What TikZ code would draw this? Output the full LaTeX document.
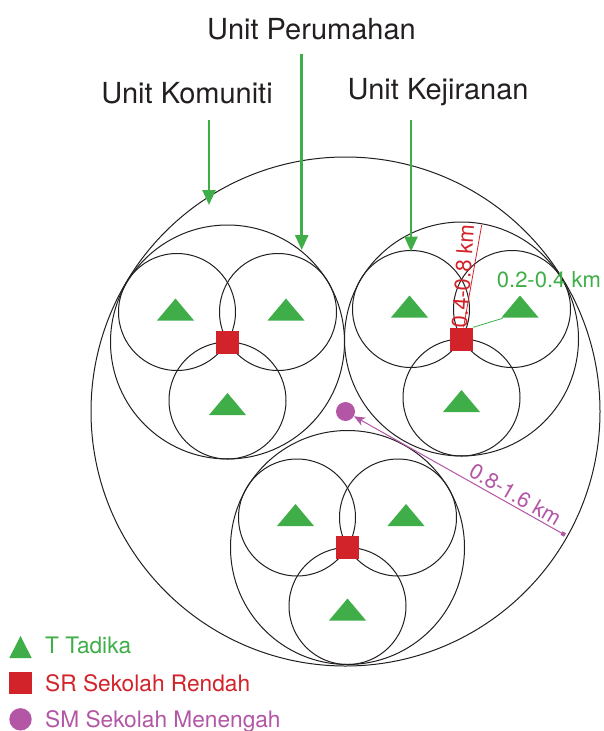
\documentclass[tikz,border=0pt]{standalone}
\usepackage{fontspec}
\setmainfont{TeX Gyre Heros}
\usetikzlibrary{arrows.meta,calc}
\definecolor{tgreen}{HTML}{3FAE49}
\definecolor{srred}{HTML}{D2232A}
\definecolor{smmag}{HTML}{B356A5}
\definecolor{ink}{HTML}{231F20}
\begin{document}
\begin{tikzpicture}[x=1pt,y=-1pt,
  ring/.style={draw=ink, line width=1pt},
  srbox/.style={rectangle, fill=srred, minimum size=23pt, inner sep=0pt},
  smdot/.style={circle, fill=smmag, minimum size=19pt, inner sep=0pt},
  unitlabel/.style={font=\fontsize{29}{33}\selectfont, text=ink, inner sep=0pt, anchor=base},
  legendtext/.style={font=\fontsize{22.7}{26}\selectfont, inner sep=0pt, anchor=base west},
  greenarrow/.style={draw=tgreen, line width=2.6pt, -{Triangle[width=13pt,length=15pt]}},
  magline/.style={draw=smmag, line width=1pt, {Square[length=4pt,width=4pt]}-{Stealth[length=11pt,width=9pt,inset=3pt]}},
  tri/.pic={\fill[tgreen] (-18.5,11) -- (0,-11) -- (18.5,11) -- cycle;},
]
\useasboundingbox (0,0) rectangle (604,731);

% community unit
\draw[ring] (345.5,411.5) circle[radius=254.5pt];

% housing clusters
\foreach \cx/\cy/\n in {227.5/342/1, 461.5/339/2, 347.5/547.5/3}{
  \draw[ring] (\cx,\cy) circle[radius=117pt];
  \draw[ring] (\cx-50.5,\cy-30) circle[radius=58.5pt];
  \draw[ring] (\cx+50.5,\cy-30) circle[radius=58.5pt];
  \draw[ring] (\cx,\cy+58.5) circle[radius=58.5pt];
  \pic at (\cx-52,\cy-32.5) {tri};
  \pic at (\cx+58.5,\cy-32.5) {tri};
  \pic at (\cx,\cy+62) {tri};
  \node[srbox] (sr\n) at (\cx,\cy) {};
}

% secondary school
\node[smdot] (sm) at (345.5,411.5) {};

% top labels and arrows
\node[unitlabel] (perumahan) at (311.5,39) {Unit Perumahan};
\node[unitlabel] (komuniti) at (187,103) {Unit Komuniti};
\node[unitlabel] (kejiranan) at (438,99) {Unit Kejiranan};
\coordinate (pt) at (301.7,250);
\coordinate (kt) at (209,205);
\coordinate (jt) at (411,251.5);
\draw[greenarrow] ($(perumahan.base -| pt)+(0,15)$) -- (pt);
\draw[greenarrow] ($(komuniti.base -| kt)+(0,17)$) -- (kt);
\draw[greenarrow] ($(kejiranan.base -| jt)+(0,21)$) -- (jt);

% radius 0.4-0.8 km
\coordinate (r2) at (481.7,225);
\draw[srred, line width=0.8pt] (sr2) -- (r2);
\node[font=\fontsize{22}{26}\selectfont, text=srred, rotate=86, anchor=base, inner sep=0pt] (redlbl) at (470.5,277) {0.4-0.8 km};

% radius 0.2-0.4 km
\coordinate (g2) at (502.7,318.3);
\draw[tgreen, line width=0.8pt] (sr2.north east) -- (g2);
\node[font=\fontsize{22}{26}\selectfont, text=tgreen, anchor=base west, inner sep=0pt] (greenlbl) at (496.7,287.7) {0.2-0.4 km};

% radius 0.8-1.6 km
\coordinate (smedge) at (565,535);
\draw[magline] (smedge) -- (sm);
\node[font=\fontsize{21.5}{26}\selectfont, text=smmag, rotate=-29.9, anchor=base, inner sep=0pt] (maglbl) at (511.6,501.2) {0.8-1.6 km};

% legend
\fill[tgreen] (9.3,658) -- (20.5,636) -- (31.7,658) -- cycle;
\node[legendtext, text=tgreen] (lgt) at (45,653.3) {T Tadika};
\node[srbox, minimum size=22.4pt] (lgsr) at (20.5,682.8) {};
\node[legendtext, text=srred] (lgr) at (45,691) {SR Sekolah Rendah};
\node[smdot, minimum size=22.4pt] (lgsm) at (20.5,719.3) {};
\node[legendtext, text=smmag] (lgm) at (45,727.3) {SM Sekolah Menengah};
\end{tikzpicture}
\end{document}
